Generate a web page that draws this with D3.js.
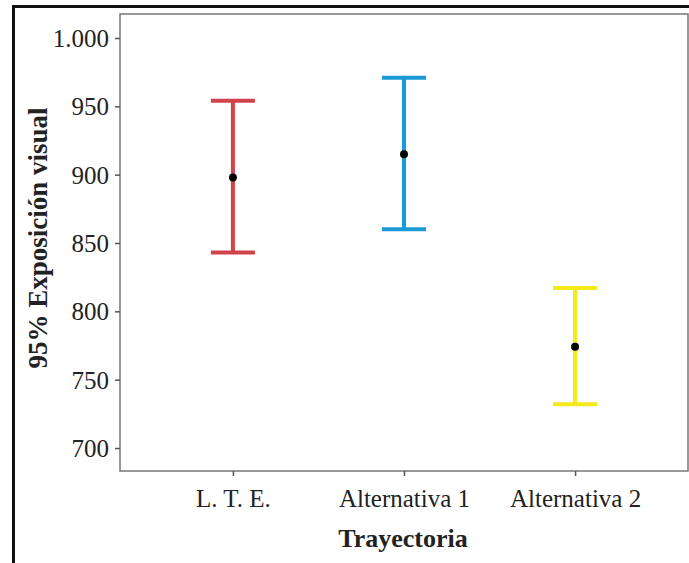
<!DOCTYPE html>
<html>
<head>
<meta charset="utf-8">
<script src="https://cdn.jsdelivr.net/npm/d3@7"></script>
<style>
  html, body { margin: 0; padding: 0; background: #fff; }
  svg { display: block; }
  text { font-family: "Liberation Serif", "Times New Roman", serif; fill: #222; }
</style>
</head>
<body>
<div id="chart"></div>
<script>
// Datos (intervalos de confianza 95%)
const categorias = ["L. T. E.", "Alternativa 1", "Alternativa 2"];
const medias = [898, 915, 774];
const limInf = [843, 860, 732];
const limSup = [954, 971, 817];
const colores = ["#d0434a", "#1b9ad6", "#f7e81a"];
const yTicks = [700, 750, 800, 850, 900, 950, 1000];

const W = 689, H = 563;
const M = { left: 120, top: 14, right: 688, bottom: 471 };

const svg = d3.select("#chart").append("svg")
    .attr("width", W)
    .attr("height", H);

// Marco exterior
svg.append("path")
    .attr("d", `M13.5,${H} L13.5,6.5 L${W},6.5`)
    .attr("fill", "none")
    .attr("stroke", "#111")
    .attr("stroke-width", 3);

// Escalas
const x = d3.scalePoint()
    .domain(categorias)
    .range([M.left, M.right])
    .padding(0.66);

const y = d3.scaleLinear()
    .domain([700, 1000])
    .range([448, 38]);

// Área del gráfico
svg.append("rect")
    .attr("x", M.left)
    .attr("y", M.top)
    .attr("width", M.right - M.left)
    .attr("height", M.bottom - M.top)
    .attr("fill", "#fff")
    .attr("stroke", "#777")
    .attr("stroke-width", 1.5);

// Eje Y
const fmt = d => d3.format(",")(d).replace(/,/g, ".");
const yAxis = svg.append("g")
    .attr("transform", `translate(${M.left},0)`)
    .call(d3.axisLeft(y).tickValues(yTicks).tickFormat(fmt).tickSize(5).tickSizeOuter(0));
yAxis.select(".domain").remove();
yAxis.selectAll("line").attr("stroke", "#555").attr("stroke-width", 1.5);
yAxis.selectAll("text")
    .attr("font-size", 25)
    .attr("font-family", "Liberation Serif, serif")
    .attr("fill", "#222")
    .attr("x", -11)
    .attr("dy", "0.34em");

// Eje X
const xAxis = svg.append("g")
    .attr("transform", `translate(0,${M.bottom})`)
    .call(d3.axisBottom(x).tickSize(5).tickSizeOuter(0));
xAxis.select(".domain").remove();
xAxis.selectAll("line").attr("stroke", "#555").attr("stroke-width", 1.5);
xAxis.selectAll("text")
    .attr("font-size", 25)
    .attr("font-family", "Liberation Serif, serif")
    .attr("fill", "#222")
    .attr("y", 36)
    .attr("dy", 0);

// Títulos
svg.append("text")
    .attr("x", 403)
    .attr("y", 547)
    .attr("text-anchor", "middle")
    .attr("font-size", 26)
    .attr("font-weight", "bold")
    .text("Trayectoria");

svg.append("text")
    .attr("transform", `translate(47,238) rotate(-90)`)
    .attr("text-anchor", "middle")
    .attr("font-size", 27)
    .attr("font-weight", "bold")
    .text("95% Exposición visual");

// Barras de error
const capW = 22;
const g = svg.selectAll(".err")
    .data(categorias.map((c, i) => ({ c, m: medias[i], lo: limInf[i], hi: limSup[i], col: colores[i] })))
    .enter()
    .append("g")
    .attr("class", "err");

g.append("line")
    .attr("x1", d => x(d.c)).attr("x2", d => x(d.c))
    .attr("y1", d => y(d.hi)).attr("y2", d => y(d.lo))
    .attr("stroke", d => d.col)
    .attr("stroke-width", 4);

g.append("line")
    .attr("x1", d => x(d.c) - capW).attr("x2", d => x(d.c) + capW)
    .attr("y1", d => y(d.hi)).attr("y2", d => y(d.hi))
    .attr("stroke", d => d.col)
    .attr("stroke-width", 4);

g.append("line")
    .attr("x1", d => x(d.c) - capW).attr("x2", d => x(d.c) + capW)
    .attr("y1", d => y(d.lo)).attr("y2", d => y(d.lo))
    .attr("stroke", d => d.col)
    .attr("stroke-width", 4);

g.append("circle")
    .attr("cx", d => x(d.c))
    .attr("cy", d => y(d.m))
    .attr("r", 4)
    .attr("fill", "#000");
</script>
</body>
</html>
